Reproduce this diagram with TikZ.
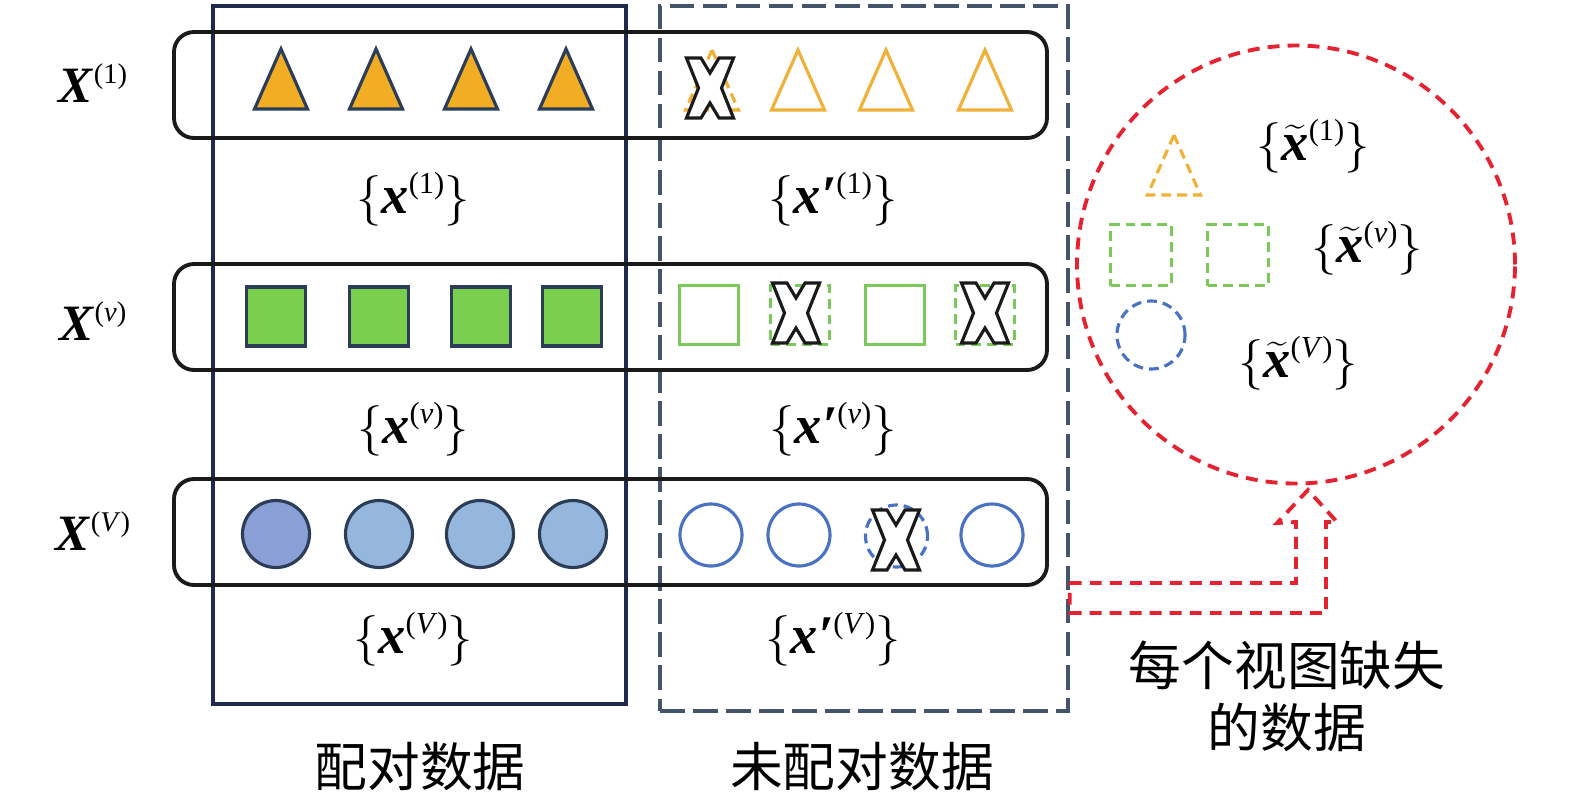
\documentclass[tikz,border=0pt]{standalone}
\usepackage{fontspec}
\setmainfont{Liberation Serif}
\newfontfamily\cjk{Noto Sans CJK SC}
\usepackage{tikz}
\usetikzlibrary{shapes.geometric, positioning, calc}
\definecolor{vwInk}{HTML}{1A1A1A}
\definecolor{vwNavy}{HTML}{1F2A4C}
\definecolor{vwSlate}{HTML}{44546A}
\definecolor{vwEdge}{HTML}{2C3D58}
\definecolor{vwOrange}{HTML}{F1AD24}
\definecolor{vwOrangeLn}{HTML}{EFB137}
\definecolor{vwGreen}{HTML}{7BCF4E}
\definecolor{vwGreenLn}{HTML}{7CC95B}
\definecolor{vwBlue}{HTML}{95B7DE}
\definecolor{vwBlueDk}{HTML}{899FD5}
\definecolor{vwBlueLn}{HTML}{4A72C2}
\definecolor{vwRed}{HTML}{E52330}

\newcommand{\up}[1]{\raisebox{0.36em}{\scalebox{0.56}{#1}}}
\newcommand{\bx}{\textbf{\textit{x}}}
\newcommand{\tx}{$\widetilde{\mbox{\bfseries\itshape x}}$}
\newcommand{\lb}{$\{$}
\newcommand{\rb}{$\}$}
% white cross over a dropped sample
\newcommand{\xmark}[2]{\draw[xcut, shift={(#1,#2)}] (-0.235,-0.30) -- (-0.09,-0.30) -- (0,-0.15) -- (0.09,-0.30) -- (0.235,-0.30) -- (0.115,0) -- (0.235,0.30) -- (0.09,0.30) -- (0,0.15) -- (-0.09,0.30) -- (-0.235,0.30) -- (-0.115,0) -- cycle;}
\newcommand{\tri}[3]{\draw[#1, shift={(#2,#3)}] (0,-0.30) -- (0.265,0.30) -- (-0.265,0.30) -- cycle;}

\begin{document}
\begin{tikzpicture}[x=1cm, y=-1cm,
  rowbox/.style={draw=vwInk, line width=1.1pt, rounded corners=0.2cm, minimum width=8.73cm, minimum height=1.06cm, inner sep=0},
  pairbox/.style={draw=vwNavy, line width=1pt, minimum width=4.13cm, minimum height=6.98cm, inner sep=0},
  unpairbox/.style={draw=vwSlate, line width=1pt, dash pattern=on 7pt off 2.4pt, minimum width=4.08cm, minimum height=7.05cm, inner sep=0},
  gone/.style={dash pattern=on 2.8pt off 1.7pt},
  tripair/.style={draw=vwEdge, fill=vwOrange, line width=0.9pt},
  triopen/.style={draw=vwOrangeLn, line width=0.9pt},
  sqpair/.style={rectangle, draw=vwEdge, fill=vwGreen, line width=0.9pt, minimum size=0.59cm, inner sep=0},
  sqopen/.style={rectangle, draw=vwGreenLn, line width=0.9pt, minimum size=0.59cm, inner sep=0},
  cirpair/.style={circle, draw=vwEdge, fill=vwBlue, line width=0.9pt, minimum size=0.67cm, inner sep=0},
  ciropen/.style={circle, draw=vwBlueLn, line width=0.9pt, minimum size=0.62cm, inner sep=0},
  xcut/.style={draw=vwInk, fill=white, line width=0.9pt},
  missring/.style={circle, draw=vwRed, line width=1.1pt, dash pattern=on 3.4pt off 2.3pt, minimum size=4.38cm, inner sep=0},
  redarrow/.style={draw=vwRed, line width=1.1pt, dash pattern=on 3.4pt off 2.3pt},
  vlabel/.style={font=\fontsize{14.5}{17}\selectfont, anchor=base, inner sep=0},
  setlabel/.style={font=\fontsize{15.5}{18}\selectfont, anchor=base, inner sep=0},
  zhlabel/.style={font=\fontsize{15}{17.6}\selectfont\cjk, inner sep=0},
]
\useasboundingbox (0,0) rectangle (15.75,7.99);

\node[pairbox] (paired) at (4.195,3.55) {};
\node[unpairbox] (unpaired) at (8.64,3.585) {};

\node[rowbox] (row1) at (6.105,0.85) {};
\node[rowbox] (rowv) at (6.105,3.17) {};
\node[rowbox] (rowV) at (6.105,5.32) {};

\node[vlabel] (lab1) at (0.93,1.02) {\textbf{\textit{X}}\up{(1)}};
\node[vlabel] (labv) at (0.93,3.40) {\textbf{\textit{X}}\up{(\textit{v})}};
\node[vlabel] (labV) at (0.93,5.50) {\textbf{\textit{X}}\up{(\textit{V})}};

% view 1
\foreach \px in {2.81,3.76,4.71,5.66} {\tri{tripair}{\px}{0.79}}
\tri{triopen, gone}{7.12}{0.80}
\xmark{7.10}{0.88}
\foreach \px in {7.98,8.86,9.85} {\tri{triopen}{\px}{0.80}}

% view v
\foreach \px [count=\i] in {2.76,3.79,4.81,5.72} {\node[sqpair] (sqP\i) at (\px,3.165) {};}
\node[sqopen] (sqU1) at (7.09,3.15) {};
\node[sqopen, gone] (sqU2) at (8.00,3.15) {};
\node[sqopen] (sqU3) at (8.95,3.15) {};
\node[sqopen, gone] (sqU4) at (9.85,3.15) {};
\xmark{7.96}{3.13}
\xmark{9.85}{3.13}

% view V
\node[cirpair, fill=vwBlueDk] (ciP1) at (2.76,5.34) {};
\foreach \px [count=\i from 2] in {3.79,4.80,5.73} {\node[cirpair] (ciP\i) at (\px,5.34) {};}
\node[ciropen] (ciU1) at (7.11,5.35) {};
\node[ciropen] (ciU2) at (7.99,5.35) {};
\node[ciropen, gone] (ciU3) at (8.965,5.36) {};
\node[ciropen] (ciU4) at (9.92,5.35) {};
\xmark{8.96}{5.40}

\node[setlabel] (pset1) at (4.13,2.13) {\lb\bx\up{(1)}\rb};
\node[setlabel] (uset1) at (8.33,2.13) {\lb\textbf{\textit{x′}}\up{(1)}\rb};
\node[setlabel] (psetv) at (4.13,4.43) {\lb\bx\up{(\textit{v})}\rb};
\node[setlabel] (usetv) at (8.33,4.43) {\lb\textbf{\textit{x′}}\up{(\textit{v})}\rb};
\node[setlabel] (psetV) at (4.13,6.53) {\lb\bx\up{(\textit{V})}\rb};
\node[setlabel] (usetV) at (8.33,6.53) {\lb\textbf{\textit{x′}}\up{(\textit{V})}\rb};

\node[zhlabel] (pairtxt) at (4.20,7.67) {配对数据};
\node[zhlabel] (unpairtxt) at (8.62,7.67) {未配对数据};

% missing samples
\node[missring] (miss) at (12.96,2.645) {};
\tri{triopen, gone}{11.74}{1.65}
\node[sqopen, gone, minimum size=0.61cm] (sqM1) at (11.41,2.55) {};
\node[sqopen, gone, minimum size=0.61cm] (sqM2) at (12.38,2.55) {};
\node[ciropen, gone, minimum size=0.68cm] (ciM) at (11.51,3.35) {};
\node[setlabel] (mset1) at (13.13,1.60) {\lb\tx\up{(1)}\rb};
\node[setlabel] (msetv) at (13.67,2.62) {\lb\tx\up{(\textit{v})}\rb};
\node[setlabel] (msetV) at (12.98,3.77) {\lb\tx\up{(\textit{V})}\rb};

\draw[redarrow] (unpaired.east |- 0,5.83) -- (12.96,5.83) -- (12.96,5.22) -- (12.77,5.23) -- (13.08,4.90) -- (13.37,5.22) -- (13.26,5.22) -- (13.26,6.13) -- (unpaired.east |- 0,6.13) -- cycle;

\node[zhlabel, align=center] (misstxt) at (12.87,6.96) {每个视图缺失\\的数据};
\end{tikzpicture}
\end{document}
